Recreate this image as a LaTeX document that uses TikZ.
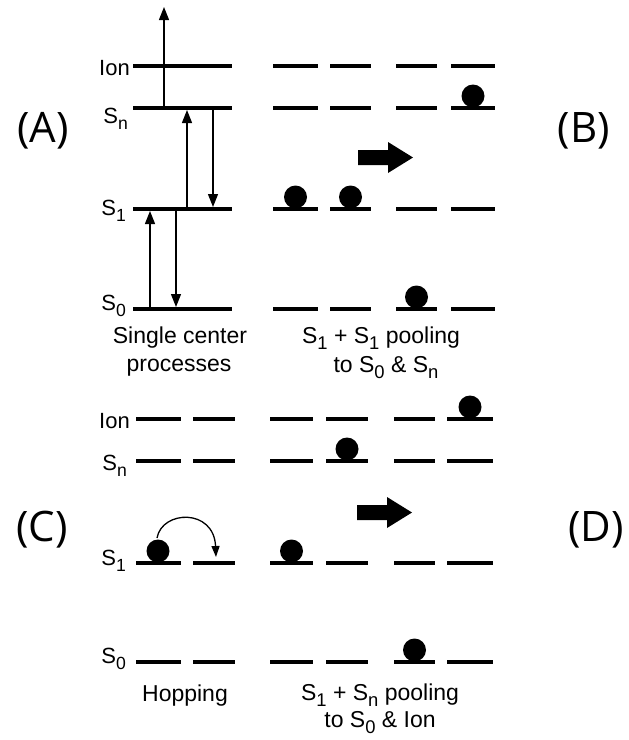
\documentclass[tikz,border=0pt]{standalone}
\usepackage{fontspec}
\setmainfont{Liberation Sans}
\newfontfamily\panelfont{Open Sans}
\usetikzlibrary{arrows.meta}

% lowered subscript used in the state names
\newcommand\lowsub[1]{\raisebox{-0.3em}{\scalebox{0.8}{#1}}}

\tikzset{
  level/.style={line width=4.5pt},
  ball/.style={circle, fill=black, inner sep=0pt, minimum size=23pt},
  trans/.style={line width=1.3pt, -{Triangle[length=13pt,width=10pt]}},
  hop/.style={line width=1.3pt, -{Triangle[length=11pt,width=8pt]}},
  lvlabel/.style={font=\fontsize{22}{22}\selectfont, anchor=base east, inner sep=0pt},
  caption/.style={font=\fontsize{23}{23}\selectfont, anchor=base, inner sep=0pt},
  panel/.style={font=\panelfont\fontsize{42}{42}\selectfont, anchor=base, inner sep=0pt},
  bigarrow/.style={fill=black}
}

\begin{document}
\begin{tikzpicture}[x=1pt, y=-1pt]
\useasboundingbox (0,0) rectangle (629,740);

% ---------- panel labels ----------
\node[panel] (pA) at (43,142) {(A)};
\node[panel] (pB) at (584,142) {(B)};
\node[panel] (pC) at (42,541) {(C)};
\node[panel] (pD) at (596,541) {(D)};

% ---------- (A) single center processes ----------
\foreach \y in {66,108,209,309} \draw[level] (133,\y) -- (232,\y);
\node[lvlabel] (aIon) at (130,75) {Ion};
\node[lvlabel] (aSn) at (128,123) {S\lowsub{n}};
\node[lvlabel] (aS1) at (126,215) {S\lowsub{1}};
\node[lvlabel] (aS0) at (126,310) {S\lowsub{0}};

\coordinate (ionFrom) at (164,108);
\coordinate (ionTo) at (164,7);
\coordinate (upSnFrom) at (187,209);
\coordinate (upSnTo) at (187,110);
\coordinate (dnSnFrom) at (213,108);
\coordinate (dnSnTo) at (213,207);
\coordinate (upS1From) at (150,309);
\coordinate (upS1To) at (150,211);
\coordinate (dnS1From) at (176,209);
\coordinate (dnS1To) at (176,307);
\draw[trans] (ionFrom) -- (ionTo);
\draw[trans] (upSnFrom) -- (upSnTo);
\draw[trans] (dnSnFrom) -- (dnSnTo);
\draw[trans] (upS1From) -- (upS1To);
\draw[trans] (dnS1From) -- (dnS1To);

\node[caption] (capA1) at (180,343) {Single center};
\node[caption] (capA2) at (179,371) {processes};

% ---------- (B) S1 + S1 pooling ----------
\foreach \y in {66,108,209,309}
  \foreach \a/\b in {273/318,330/371,396/437,451/495}
    \draw[level] (\a,\y) -- (\b,\y);
\node[ball] (bB1) at (295.5,197) {};
\node[ball] (bB2) at (350.5,197) {};
\node[ball] (bB3) at (473,96) {};
\node[ball] (bB4) at (416.5,297) {};
\fill[bigarrow] (358,150) -- (388,150) -- (388,142) -- (413,157.5) -- (388,173) -- (388,165) -- (358,165) -- cycle;
\node[caption] (capB1) at (381,343) {S\lowsub{1} + S\lowsub{1} pooling};
\node[caption] (capB2) at (386,372) {to S\lowsub{0} \& S\lowsub{n}};

% ---------- (C) hopping ----------
\foreach \y in {419,461,563,662}
  \foreach \a/\b in {136/181,193/235}
    \draw[level] (\a,\y) -- (\b,\y);
\node[lvlabel] (cIon) at (130,428) {Ion};
\node[lvlabel] (cSn) at (127,470) {S\lowsub{n}};
\node[lvlabel] (cS1) at (126,565) {S\lowsub{1}};
\node[lvlabel] (cS0) at (126,663) {S\lowsub{0}};
\node[ball] (bC1) at (158,551) {};
\coordinate (hopFrom) at (157,538);
\coordinate (hopTo) at (216,557);
\draw[hop] (hopFrom) .. controls (162,510) and (214,508) .. (hopTo);
\node[caption] (capC) at (185,701) {Hopping};

% ---------- (D) S1 + Sn pooling ----------
\foreach \y in {419,461,563,662}
  \foreach \a/\b in {270/313,326/368,394/435,447/493}
    \draw[level] (\a,\y) -- (\b,\y);
\node[ball] (bD1) at (470,407) {};
\node[ball] (bD2) at (347,449) {};
\node[ball] (bD3) at (291.5,551) {};
\node[ball] (bD4) at (414.5,650) {};
\fill[bigarrow] (357,505) -- (387,505) -- (387,497) -- (412,512.5) -- (387,528) -- (387,520) -- (357,520) -- cycle;
\node[caption] (capD1) at (380,700) {S\lowsub{1} + S\lowsub{n} pooling};
\node[caption] (capD2) at (380,727) {to S\lowsub{0} \& Ion};
\end{tikzpicture}
\end{document}
